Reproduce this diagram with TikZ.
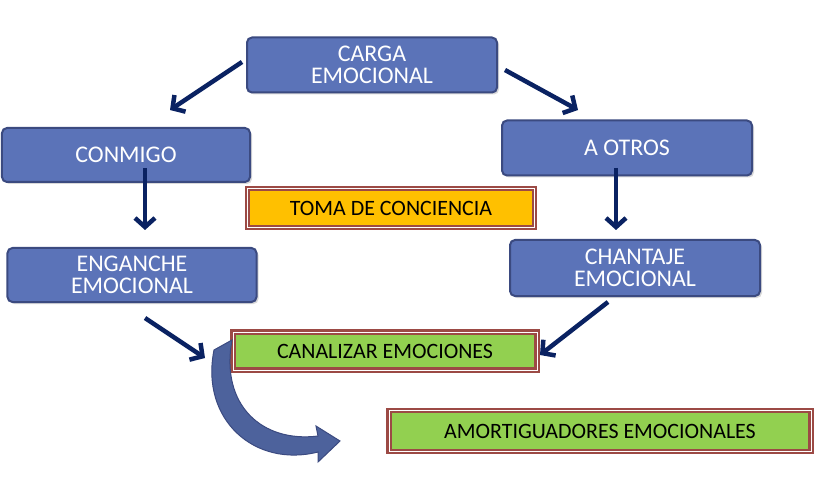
\documentclass[tikz,border=0pt]{standalone}
\usepackage{fontspec}
\setmainfont{Carlito}
\usetikzlibrary{shadows,arrows.meta}
\definecolor{bfill}{HTML}{5B73B8}
\definecolor{bdraw}{HTML}{3B4A80}
\definecolor{navy}{HTML}{0A2262}
\definecolor{org}{HTML}{FFC000}
\definecolor{grn}{HTML}{92D050}
\definecolor{brd}{HTML}{9C4A45}
\begin{document}
\begin{tikzpicture}[x=1bp,y=-1bp,
 bbox/.style={draw=bdraw,line width=2bp,fill=bfill,rounded corners=5bp,text=white,font=\fontsize{24}{24}\selectfont,align=center,inner sep=0pt,drop shadow={shadow xshift=2bp,shadow yshift=-2bp,opacity=0.3}},
 lbox/.style={draw=brd,line width=2.5bp,double=white,double distance=0.8bp,inner sep=0pt,text=black,font=\fontsize{22}{22}\selectfont,drop shadow={shadow xshift=2bp,shadow yshift=-2bp,opacity=0.3}},
 arr/.style={navy,line width=4.5bp,-{Straight Barb[length=9bp,width=20bp,line width=4.5bp]}}]
\useasboundingbox (0,0) rectangle (816,496);
\node[bbox,minimum width=250bp,minimum height=55bp] (carga) at (372,65) {CARGA\\[-2bp]EMOCIONAL};
\node[bbox,minimum width=248bp,minimum height=54bp] (conmigo) at (126,155) {CONMIGO};
\node[bbox,minimum width=250bp,minimum height=55bp] (otros) at (627,148) {A OTROS};
\node[bbox,minimum width=249bp,minimum height=54bp] (enganche) at (132,275) {ENGANCHE\\[-2bp]EMOCIONAL};
\node[bbox,minimum width=250bp,minimum height=56bp] (chantaje) at (635,268) {CHANTAJE\\[-2bp]EMOCIONAL};
\node[lbox,fill=org,minimum width=287bp,minimum height=39bp] (toma) at (391,208) {TOMA DE CONCIENCIA};
\node[lbox,fill=grn,minimum width=304bp,minimum height=38bp] (canal) at (385,351) {CANALIZAR EMOCIONES};
\node[lbox,fill=grn,minimum width=422bp,minimum height=41bp] (amort) at (600,431) {AMORTIGUADORES EMOCIONALES};
\coordinate (a1) at (242,62); \coordinate (a1e) at (170,110);
\coordinate (a2) at (505,70); \coordinate (a2e) at (578,110);
\coordinate (a3) at (145,168); \coordinate (a3e) at (145,230);
\coordinate (a4) at (616,168); \coordinate (a4e) at (616,230);
\coordinate (a5) at (145,318); \coordinate (a5e) at (205,358);
\coordinate (a6) at (608,302); \coordinate (a6e) at (540,355);
\draw[arr] (a1) -- (a1e);
\draw[arr] (a2) -- (a2e);
\draw[arr] (a3) -- (a3e);
\draw[arr] (a4) -- (a4e);
\draw[arr] (a5) -- (a5e);
\draw[arr] (a6) -- (a6e);
\fill[bfill!85!black,draw=bdraw,line width=1bp]
 (232,340) .. controls (220,405) and (262,443) .. (318,436)
 -- (316,426) -- (340,441) -- (318,462) -- (318,452)
 .. controls (255,468) and (200,420) .. (214,350) -- cycle;
\end{tikzpicture}
\end{document}
